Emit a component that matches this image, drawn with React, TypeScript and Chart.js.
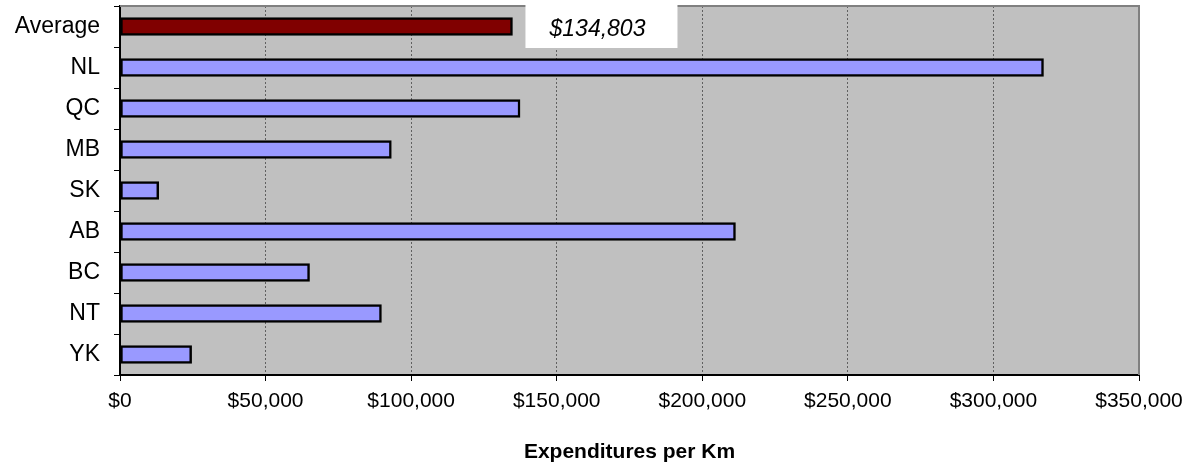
import React, { useEffect, useRef } from "react";
import { Chart, registerables } from "chart.js";

Chart.register(...registerables);

const categories = ["Average", "NL", "QC", "MB", "SK", "AB", "BC", "NT", "YK"];
const values = [134803, 317200, 137400, 93200, 13300, 211400, 65100, 89800, 24600];
const barColors = ["#800000", "#9999FF", "#9999FF", "#9999FF", "#9999FF", "#9999FF", "#9999FF", "#9999FF", "#9999FF"];
const averageLabel = "$134,803";
const xTitle = "Expenditures per Km";
const xMin = 0;
const xMax = 350000;
const xStep = 50000;

const FONT = "'Liberation Sans', Arial, sans-serif";

const plotPlugin = {
  id: "plotDecor",
  beforeDraw(chart: any) {
    const { ctx, chartArea } = chart;
    ctx.save();
    ctx.fillStyle = "#C0C0C0";
    ctx.fillRect(chartArea.left, chartArea.top, chartArea.right - chartArea.left, chartArea.bottom - chartArea.top);
    ctx.restore();
  },
  beforeDatasetsDraw(chart: any) {
    const { ctx, chartArea } = chart;
    ctx.save();
    ctx.strokeStyle = "#808080";
    ctx.lineWidth = 2;
    ctx.beginPath();
    ctx.moveTo(chartArea.left, chartArea.top);
    ctx.lineTo(chartArea.right, chartArea.top);
    ctx.lineTo(chartArea.right, chartArea.bottom);
    ctx.stroke();
    ctx.restore();
  },
  afterDatasetsDraw(chart: any) {
    const { ctx } = chart;
    const xs = chart.scales.x;
    const left = xs.getPixelForValue(values[0]) + 13;
    const w = 152;
    ctx.save();
    ctx.fillStyle = "#FFFFFF";
    ctx.fillRect(left, 0, w, 48);
    ctx.fillStyle = "#000000";
    ctx.font = `italic 23px ${FONT}`;
    ctx.textAlign = "center";
    ctx.textBaseline = "middle";
    ctx.fillText(averageLabel, left + w / 2 - 4, 30);
    ctx.restore();
  },
};

export default function App() {
  const canvasRef = useRef<HTMLCanvasElement>(null);

  useEffect(() => {
    if (!canvasRef.current) return;
    const chart = new Chart(canvasRef.current, {
      type: "bar",
      data: {
        labels: categories,
        datasets: [
          {
            data: values,
            backgroundColor: barColors,
            borderColor: "#000000",
            borderWidth: 2.5,
            borderSkipped: false,
            barThickness: 18,
          },
        ],
      },
      options: {
        indexAxis: "y",
        animation: false,
        responsive: false,
        maintainAspectRatio: false,
        layout: { padding: { top: 6, right: 52, left: 0, bottom: 0 } },
        plugins: {
          legend: { display: false },
          tooltip: { enabled: false },
        },
        scales: {
          x: {
            min: xMin,
            max: xMax,
            ticks: {
              stepSize: xStep,
              color: "#000000",
              font: { family: FONT, size: 21 },
              padding: 8,
              maxRotation: 0,
              callback: (v: any) => "$" + Number(v).toLocaleString("en-US"),
            },
            grid: {
              color: "#606060",
              lineWidth: 1,
              tickBorderDash: [],
              tickColor: "#000000",
              tickLength: 6,
              drawTicks: true,
            },
            border: { display: true, color: "#000000", width: 2, dash: [2, 2] },
            title: {
              display: true,
              text: xTitle,
              color: "#000000",
              font: { family: FONT, size: 21, weight: "bold" },
              padding: { top: 4, bottom: 4 },
            },
            afterFit: (s: any) => {
              s.height = 94;
              s.paddingLeft = 0;
              s.paddingRight = 0;
            },
          },
          y: {
            ticks: {
              color: "#000000",
              font: { family: FONT, size: 23 },
              padding: 14,
            },
            grid: {
              offset: true,
              drawOnChartArea: false,
              drawTicks: true,
              tickLength: 6,
              tickColor: "#000000",
            },
            border: { display: true, color: "#000000", width: 2 },
            afterFit: (s: any) => {
              s.width = 120;
              s.paddingTop = 0;
              s.paddingBottom = 0;
            },
          },
        },
      },
      plugins: [plotPlugin],
    });
    return () => chart.destroy();
  }, []);

  return (
    <div style={{ position: "fixed", left: 0, top: 0, width: 1191, height: 469, background: "#FFFFFF" }}>
      <canvas ref={canvasRef} width={1191} height={469} style={{ width: 1191, height: 469, display: "block" }} />
    </div>
  );
}
